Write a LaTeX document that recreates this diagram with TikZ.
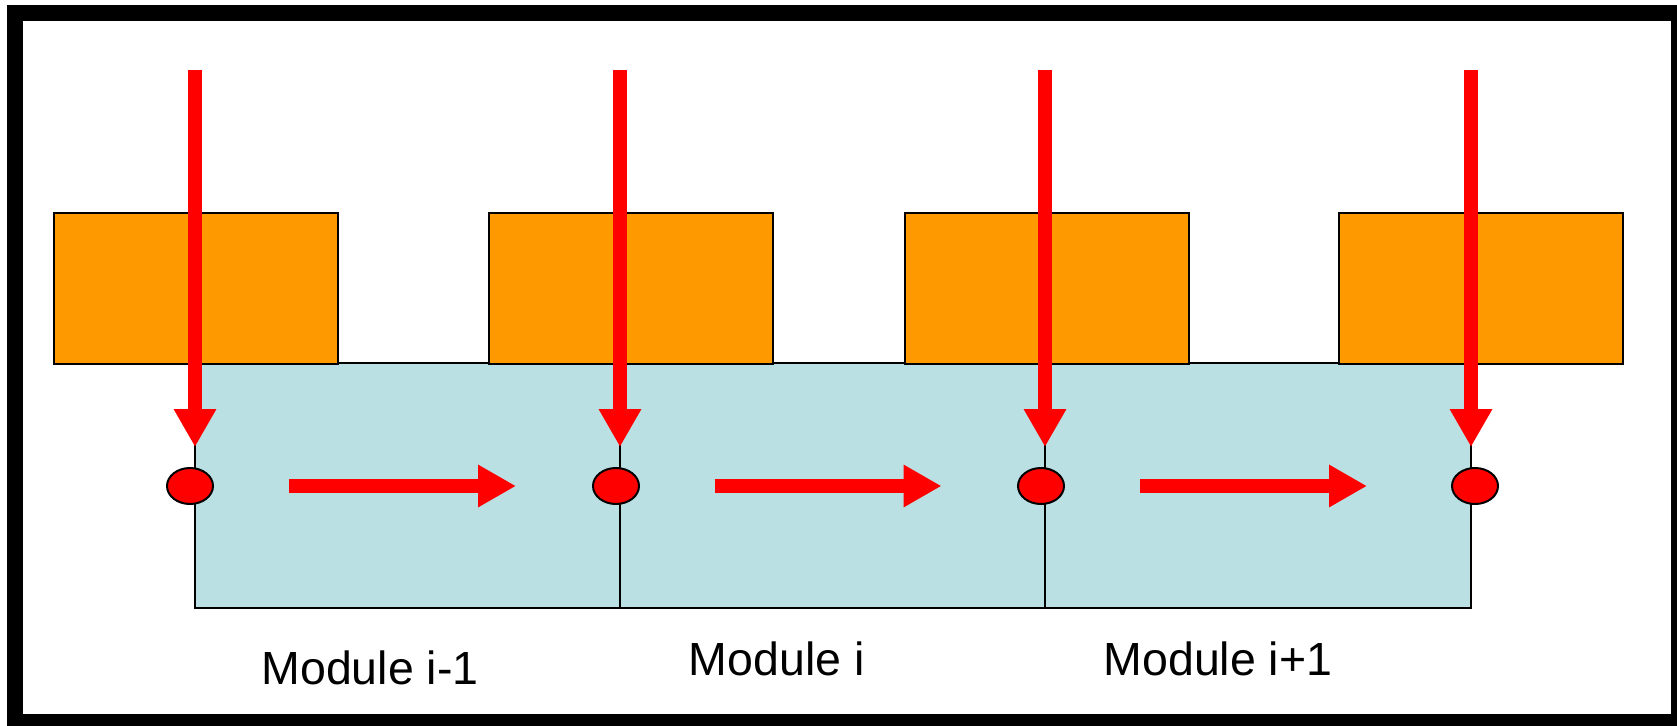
\documentclass[tikz,border=0pt]{standalone}
\usepackage{fontspec}
\setmainfont{Liberation Sans}
\usetikzlibrary{arrows.meta,shapes.geometric}

\definecolor{boxorange}{RGB}{255,153,0}
\definecolor{modblue}{RGB}{187,224,227}
\definecolor{flowred}{RGB}{255,0,0}

\tikzset{
  slab/.style={draw=black, line width=2pt, fill=boxorange},
  portdot/.style={ellipse, draw=black, line width=2pt, fill=flowred,
    minimum width=46pt, minimum height=36pt, inner sep=0pt},
  flow/.style={draw=flowred, line width=13.3pt,
    -{Triangle[length=38pt 0, width=40pt 0]}, color=flowred},
  modlabel/.style={anchor=base, inner sep=0pt,
    font=\fontsize{46.5}{56}\selectfont}
}

\begin{document}
\begin{tikzpicture}[x=1pt, y=-1pt]
  \useasboundingbox (0,0) rectangle (1677,725);
  \clip (0,0) rectangle (1677,725);
  \fill[white] (0,0) rectangle (1677,725);

  % outer frame (runs off the right and bottom edges)
  \draw[line width=16pt] (15,13) rectangle (1679,722);

  % module strip with its dividers
  \draw[fill=modblue, line width=2pt] (194.5,363) rectangle (1471,608);
  \foreach \x in {620,1045}
    \draw[line width=2pt] (\x,363) -- (\x,608);

  % orange slabs above the strip
  \foreach \i/\x in {1/53,2/488,3/904,4/1338}
    \node[slab, inner sep=0pt, minimum width=284pt, minimum height=151.5pt,
          anchor=north west] (slab\i) at (\x,211.5) {};

  % ports on the module boundaries
  \foreach \i/\x in {1/190,2/616,3/1041,4/1475}
    \node[portdot] (port\i) at (\x,486) {};

  % incoming vertical flows
  \foreach \i/\x in {1/195,2/620,3/1045,4/1471} {
    \coordinate (src\i) at (\x,70);
    \coordinate (tip\i) at (\x,447);
    \draw[flow] (src\i) -- (tip\i);
  }

  % flows passed from module to module
  \foreach \i/\x in {1/289,2/714.5,3/1140} {
    \coordinate (hs\i) at (\x,486);
    \coordinate (he\i) at (\x+227,486);
    \draw[flow] (hs\i) -- (he\i);
  }

  % module labels
  \node[modlabel] (lab1) at (370,684) {Module i-1};
  \node[modlabel] (lab2) at (776.7,675) {Module i};
  \node[modlabel] (lab3) at (1218,675) {Module i+1};
\end{tikzpicture}
\end{document}
